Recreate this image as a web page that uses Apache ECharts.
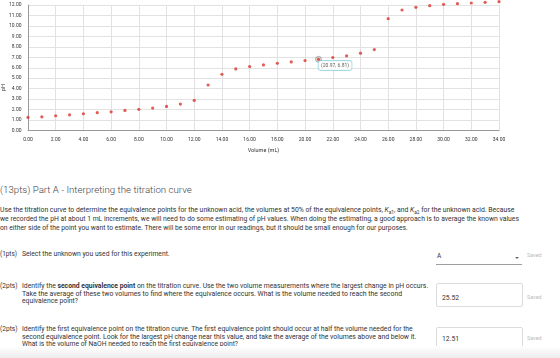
<!DOCTYPE html>
<html>
<head>
<meta charset="utf-8">
<script src="https://cdn.jsdelivr.net/npm/echarts@6/dist/echarts.min.js"></script>
<style>
  html, body { margin: 0; padding: 0; background: #fff; }
  body { width: 560px; height: 358px; position: relative; overflow: hidden; font-family: Roboto, "Noto Sans", sans-serif; }
  #chart { position: absolute; left: 0; top: 0; width: 560px; height: 160px; }
  .ln { position: absolute; white-space: nowrap; line-height: 1; }
  .title { font-size: 9.6px; font-weight: 300; color: #444; left: 0; top: 185px; }
  .p { font-size: 7px; color: #333; left: 0; }
  .q { font-size: 6.8px; color: #333; }
  .pts { left: 0; }
  .saved { font-size: 5.4px; color: #bbb; left: 527px; }
  .box { position: absolute; left: 436px; width: 85px; height: 22px; border: 1px solid #dcdcdc; border-radius: 2px; }
  .val { font-size: 6.8px; color: #333; left: 442px; }
  #shade { position: absolute; left: 0; top: 346px; width: 560px; height: 12px;
           background: linear-gradient(#fff, #ececec); }
</style>
</head>
<body>
<div id="chart"></div>

<div class="ln title" data-w="192">(13pts) Part A - Interpreting the titration curve</div>
<div class="ln p" data-w="515" style="top:207px">Use the titration curve to determine the equivalence points for the unknown acid, the volumes at 50% of the equivalence points, <i>K</i><sub style="font-size:0.7em">a1</sub>, and <i>K</i><sub style="font-size:0.7em">a2</sub> for the unknown acid. Because</div>
<div class="ln p" data-w="519" style="top:216px">we recorded the pH at about 1 mL increments, we will need to do some estimating of pH values. When doing the estimating, a good approach is to average the known values</div>
<div class="ln p" data-w="409" style="top:224.5px">on either side of the point you want to estimate. There will be some error in our readings, but it should be small enough for our purposes.</div>

<div class="ln q pts" data-w="17" style="top:251px">(1pts)</div>
<div class="ln q" data-w="148" style="left:22px;top:251px">Select the unknown you used for this experiment.</div>
<div class="ln q" style="left:437px;top:252.5px;font-size:6.5px">A</div>
<div style="position:absolute;left:436px;top:264px;width:86px;height:1px;background:#9e9e9e"></div>
<div style="position:absolute;left:515px;top:257px;width:0;height:0;border-left:2px solid transparent;border-right:2px solid transparent;border-top:2px solid #666"></div>
<div class="ln saved" style="top:252.5px">Saved</div>

<div class="ln q pts" data-w="17.5" style="top:283px">(2pts)</div>
<div class="ln q" data-w="406" style="left:22px;top:283px">Identify the <b>second equivalence point</b> on the titration curve. Use the two volume measurements where the largest change in pH occurs.</div>
<div class="ln q" data-w="380" style="left:22px;top:290.5px">Take the average of these two volumes to find where the equivalence occurs. What is the volume needed to reach the second</div>
<div class="ln q" data-w="56" style="left:22px;top:298px">equivalence point?</div>
<div class="box" style="top:283px"></div>
<div class="ln val" style="top:294.5px">25.52</div>
<div class="ln saved" style="top:294.5px">Saved</div>

<div class="ln q pts" data-w="17.5" style="top:326px">(2pts)</div>
<div class="ln q" data-w="391" style="left:22px;top:326px">Identify the first equivalence point on the titration curve. The first equivalence point should occur at half the volume needed for the</div>
<div class="ln q" data-w="394" style="left:22px;top:333.5px">second equivalence point. Look for the largest pH change near this value, and take the average of the volumes above and below it.</div>
<div class="ln q" data-w="216" style="left:22px;top:341px">What is the volume of NaOH needed to reach the first equivalence point?</div>
<div class="box" style="top:327px"></div>
<div class="ln val" style="top:335.5px">12.51</div>
<div class="ln saved" style="top:336px">Saved</div>

<div id="shade"></div>

<script>
// titration data
const volume = [0, 1, 2, 3, 4, 5, 6, 7, 8, 9, 10, 11, 12, 13, 14, 15, 16, 17, 18, 19, 20, 20.97,
  22, 23, 24, 25, 26, 27, 28, 29, 30, 31, 32, 33, 34];
const ph = [1.25, 1.31, 1.41, 1.50, 1.60, 1.70, 1.79, 1.92, 2.02, 2.14, 2.30, 2.53, 2.88, 4.35,
  5.38, 5.89, 6.11, 6.27, 6.43, 6.56, 6.69, 6.81, 6.98, 7.14, 7.39, 7.74, 10.69, 11.52, 11.78,
  11.94, 12.06, 12.13, 12.19, 12.26, 12.32];
const selectedIndex = 21; // point with the hover label

// squeeze each text line to the width it has in the page
document.querySelectorAll('[data-w]').forEach(el => {
  const w = el.getBoundingClientRect().width;
  const fs = parseFloat(getComputedStyle(el).fontSize);
  el.style.fontSize = (fs * parseFloat(el.dataset.w) / w).toFixed(2) + 'px';
});

const points = volume.map((v, i) => [v, ph[i]]);

const chart = echarts.init(document.getElementById('chart'));
chart.setOption({
  animation: false,
  grid: { left: 28, width: 471, top: 5, height: 125.5 },
  xAxis: {
    type: 'value', min: 0, max: 34, interval: 2,
    name: 'Volume (mL)', nameLocation: 'middle', nameGap: 17,
    nameTextStyle: { fontSize: 5.5, color: '#333', fontFamily: 'Roboto' },
    axisLine: { lineStyle: { color: '#999', width: 1 } },
    axisTick: { show: false },
    axisLabel: { fontSize: 5, color: '#333', margin: 6.5, fontFamily: 'Roboto',
      formatter: v => v.toFixed(2) },
    splitLine: { lineStyle: { color: '#e2e2e2', width: 1 } }
  },
  yAxis: {
    type: 'value', min: 0, max: 12, interval: 1,
    axisLine: { show: true, lineStyle: { color: '#999', width: 1 } },
    axisTick: { show: false },
    axisLabel: { fontSize: 5, color: '#333', margin: 6.5, fontFamily: 'Roboto',
      formatter: v => v.toFixed(2) },
    splitLine: { lineStyle: { color: '#e2e2e2', width: 1 } }
  },
  graphic: [{
    type: 'text', left: 1, top: 84, rotation: Math.PI / 2,
    style: { text: 'pH', fontSize: 5.5, fill: '#333', fontFamily: 'Roboto' }
  }],
  series: [{
    type: 'scatter',
    data: points,
    symbolSize: 3.2,
    clip: false,
    itemStyle: { color: '#d9342b' }
  }, {
    type: 'scatter',
    data: [points[selectedIndex]],
    symbolSize: 6,
    clip: false,
    z: 1,
    itemStyle: { color: 'rgba(150,150,150,0.35)', borderColor: '#8a8a8a', borderWidth: 0.8 },
    label: {
      show: true, position: [3.5, 5], align: 'left', verticalAlign: 'top',
      formatter: p => '(' + p.value[0].toFixed(2) + ', ' + p.value[1].toFixed(2) + ')',
      fontSize: 5, color: '#333', fontFamily: 'Roboto',
      backgroundColor: '#fff', borderColor: '#8fd0df', borderWidth: 0.8, borderRadius: 2,
      padding: [2.2, 2.5, 2, 2.5]
    }
  }]
});
</script>
</body>
</html>
